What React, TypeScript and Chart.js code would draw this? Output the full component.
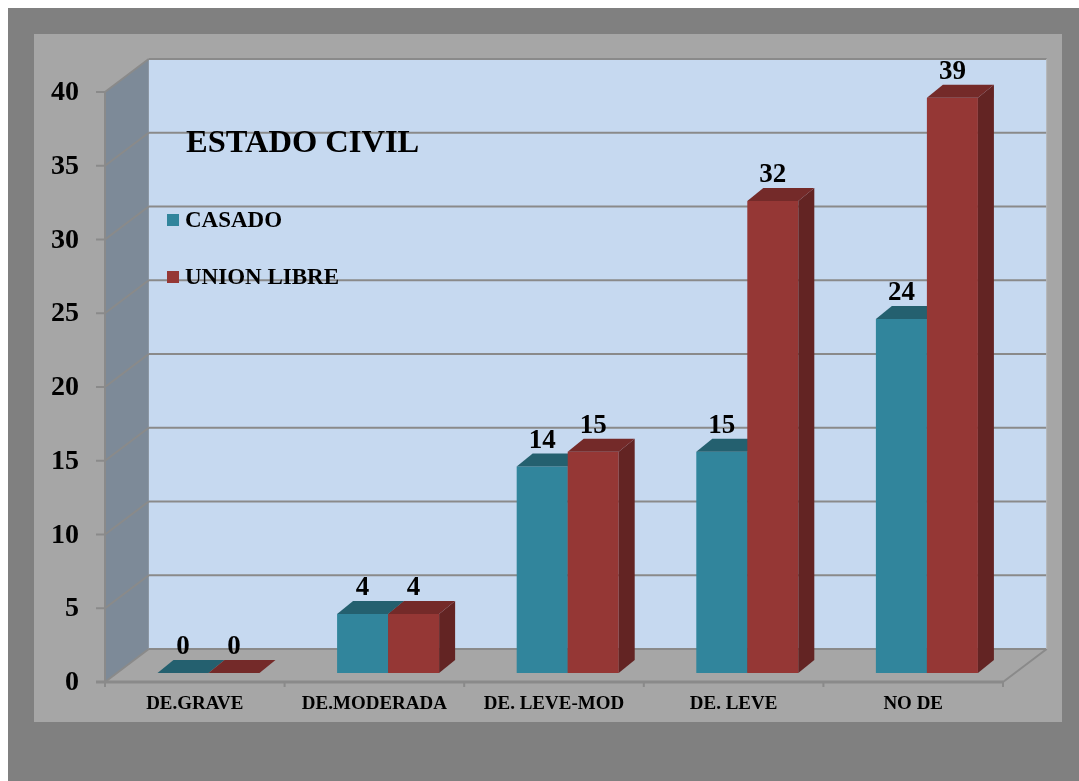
import React, { useEffect, useRef } from "react";
import { Chart, registerables } from "chart.js";

Chart.register(...registerables);

const categories = ["DE.GRAVE", "DE.MODERADA", "DE. LEVE-MOD", "DE. LEVE", "NO DE"];
const casado = [0, 4, 14, 15, 24];
const unionLibre = [0, 4, 15, 32, 39];
const seriesNames = ["CASADO", "UNION LIBRE"];
const yTicks = [0, 5, 10, 15, 20, 25, 30, 35, 40];
const chartTitle = "ESTADO CIVIL";

const faceColors = [
  { front: "#31859c", top: "#24606f", side: "#1f5361" },
  { front: "#953735", top: "#742a29", side: "#632423" },
];

const F = { x: -13.7, y: 9 }; // front axis plane offset
const B = { x: 30, y: -24 }; // back wall offset
const D = { x: 16, y: -13 }; // bar depth

const serif = '"Liberation Serif", "Times New Roman", serif';

function poly(ctx: CanvasRenderingContext2D, pts: number[][], fill?: string, stroke?: string, lw = 1) {
  ctx.beginPath();
  ctx.moveTo(pts[0][0], pts[0][1]);
  for (let i = 1; i < pts.length; i++) ctx.lineTo(pts[i][0], pts[i][1]);
  ctx.closePath();
  if (fill) {
    ctx.fillStyle = fill;
    ctx.fill();
  }
  if (stroke) {
    ctx.strokeStyle = stroke;
    ctx.lineWidth = lw;
    ctx.stroke();
  }
}

function line(ctx: CanvasRenderingContext2D, x1: number, y1: number, x2: number, y2: number, color: string, lw: number) {
  ctx.beginPath();
  ctx.moveTo(x1, y1);
  ctx.lineTo(x2, y2);
  ctx.strokeStyle = color;
  ctx.lineWidth = lw;
  ctx.stroke();
}

const scene3d = {
  id: "scene3d",
  beforeDatasetsDraw(chart: any) {
    const ctx: CanvasRenderingContext2D = chart.ctx;
    const xs = chart.scales.x;
    const ys = chart.scales.y;
    const L = xs.left;
    const R = xs.right;
    const y0 = ys.getPixelForValue(0);
    const yMax = ys.getPixelForValue(yTicks[yTicks.length - 1]);
    ctx.save();

    // panel
    ctx.fillStyle = "#a6a6a6";
    ctx.fillRect(26, 26, 1028, 688);

    // back wall
    poly(ctx, [[L + B.x, yMax + B.y], [R + B.x, yMax + B.y], [R + B.x, y0 + B.y], [L + B.x, y0 + B.y]], "#c6d9f0");
    // left wall
    poly(ctx, [[L + F.x, yMax + F.y], [L + B.x, yMax + B.y], [L + B.x, y0 + B.y], [L + F.x, y0 + F.y]], "#7d8a98");
    // floor
    poly(ctx, [[L + F.x, y0 + F.y], [R + F.x, y0 + F.y], [R + B.x, y0 + B.y], [L + B.x, y0 + B.y]], "#a6a6a6");

    // gridlines
    for (const v of yTicks) {
      const y = ys.getPixelForValue(v);
      line(ctx, L + F.x, y + F.y, L + B.x, y + B.y, "#8a8a8a", 2);
      line(ctx, L + B.x, y + B.y, R + B.x, y + B.y, "#8a8a8a", 2);
    }
    // floor edges
    line(ctx, R + F.x, y0 + F.y, R + B.x, y0 + B.y, "#8a8a8a", 2);
    line(ctx, R + B.x, y0 + B.y, R + B.x, yMax + B.y, "#b4b4b4", 1);
    // axes
    line(ctx, L + F.x, yMax + F.y, L + F.x, y0 + F.y, "#8a8a8a", 2);
    line(ctx, L + F.x - 9, y0 + F.y, R + F.x, y0 + F.y, "#8a8a8a", 3);

    // y ticks & labels
    ctx.font = `bold 28px ${serif}`;
    ctx.fillStyle = "#000";
    ctx.textAlign = "right";
    ctx.textBaseline = "middle";
    for (const v of yTicks) {
      const y = ys.getPixelForValue(v) + F.y;
      line(ctx, L + F.x - 9, y, L + F.x, y, "#8a8a8a", 2);
      ctx.fillStyle = "#000";
      ctx.fillText(String(v), 71, y + 1);
    }

    // x ticks & labels
    const n = categories.length;
    const catW = (R - L) / n;
    for (let i = 0; i <= n; i++) {
      const x = L + F.x + i * catW;
      line(ctx, x, y0 + F.y, x, y0 + F.y + 5, "#8a8a8a", 2);
    }
    ctx.font = `bold 19px ${serif}`;
    ctx.textAlign = "center";
    ctx.textBaseline = "middle";
    ctx.fillStyle = "#000";
    categories.forEach((c, i) => {
      ctx.fillText(c, xs.getPixelForValue(i) + F.x, y0 + F.y + 22);
    });

    // bars
    const metas = chart.data.datasets.map((_: any, di: number) => chart.getDatasetMeta(di));
    for (let i = 0; i < n; i++) {
      metas.forEach((meta: any, di: number) => {
        const el = meta.data[i];
        const { x, y, base, width } = el.getProps(["x", "y", "base", "width"], true);
        const l = x - width / 2;
        const r = x + width / 2;
        const c = faceColors[di];
        if (base - y > 0.5) {
          poly(ctx, [[l, y], [r, y], [r, base], [l, base]], c.front);
        }
        poly(ctx, [[r, y], [r + D.x, y + D.y], [r + D.x, base + D.y], [r, base]], c.side);
        poly(ctx, [[l, y], [r, y], [r + D.x, y + D.y], [l + D.x, y + D.y]], c.top);
      });
    }

    // data labels
    ctx.font = `bold 27px ${serif}`;
    ctx.textAlign = "center";
    ctx.textBaseline = "alphabetic";
    ctx.fillStyle = "#000";
    metas.forEach((meta: any, di: number) => {
      const vals = chart.data.datasets[di].data;
      meta.data.forEach((el: any, i: number) => {
        const { x, y } = el.getProps(["x", "y"], true);
        ctx.fillText(String(vals[i]), x, y + D.y - 6);
      });
    });

    // title
    ctx.textAlign = "left";
    ctx.font = `bold 32.5px ${serif}`;
    ctx.fillText(chartTitle, 178, 144);

    // legend
    ctx.font = `bold 23px ${serif}`;
    seriesNames.forEach((name, di) => {
      const top = 206 + di * 57;
      ctx.fillStyle = faceColors[di].front;
      ctx.fillRect(159, top, 12, 12);
      ctx.fillStyle = "#000";
      ctx.fillText(name, 177, top + 13);
    });

    ctx.restore();
    return false;
  },
};

export default function App() {
  const ref = useRef<HTMLCanvasElement | null>(null);
  useEffect(() => {
    if (!ref.current) return;
    const chart = new Chart(ref.current, {
      type: "bar",
      data: {
        labels: categories,
        datasets: [
          { label: seriesNames[0], data: casado, backgroundColor: faceColors[0].front, categoryPercentage: 0.568, barPercentage: 1 },
          { label: seriesNames[1], data: unionLibre, backgroundColor: faceColors[1].front, categoryPercentage: 0.568, barPercentage: 1 },
        ],
      },
      options: {
        responsive: false,
        animation: false,
        events: [],
        layout: { padding: { left: 110.7, right: 62.3, top: 75, bottom: 108 } },
        plugins: { legend: { display: false }, tooltip: { enabled: false }, title: { display: false } },
        scales: {
          x: { display: false, offset: true },
          y: { display: false, min: 0, max: 40 },
        },
      },
      plugins: [scene3d],
    });
    return () => chart.destroy();
  }, []);
  return (
    <div style={{ position: "fixed", left: 8, top: 8, width: 1071, height: 773, background: "#808080" }}>
      <canvas ref={ref} width={1071} height={773} style={{ display: "block" }} />
    </div>
  );
}
